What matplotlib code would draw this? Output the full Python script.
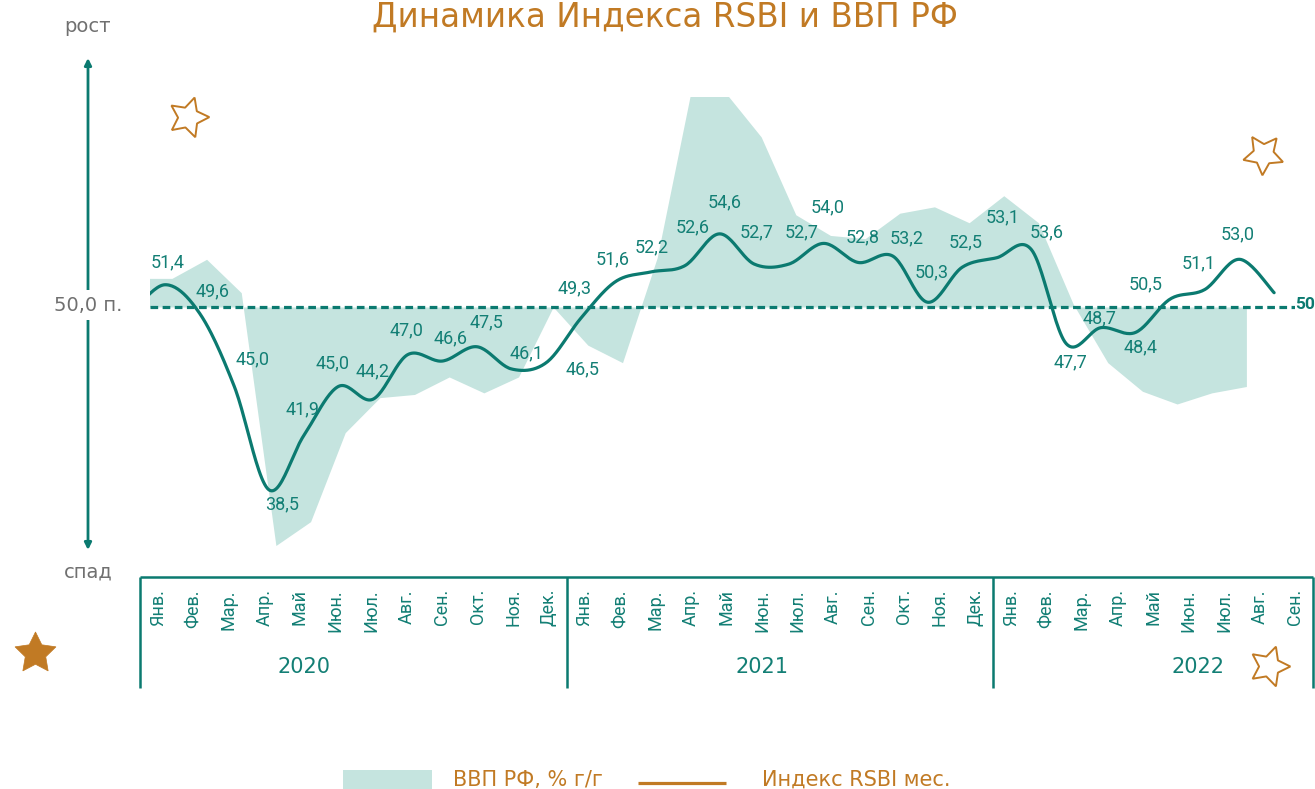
import numpy as np
import matplotlib
matplotlib.use("Agg")
import matplotlib.pyplot as plt
from matplotlib.patches import Rectangle

plt.rcParams['font.family'] = ['Roboto', 'DejaVu Sans']
WIDE = ['DejaVu Sans']

# ---------------- data ----------------
months = ["Янв.", "Фев.", "Мар.", "Апр.", "Май", "Июн.", "Июл.", "Авг.", "Сен.", "Окт.", "Ноя.", "Дек.",
          "Янв.", "Фев.", "Мар.", "Апр.", "Май", "Июн.", "Июл.", "Авг.", "Сен.", "Окт.", "Ноя.", "Дек.",
          "Янв.", "Фев.", "Мар.", "Апр.", "Май", "Июн.", "Июл.", "Авг.", "Сен."]
years = ["2020", "2021", "2022"]

rsbi = [51.4, 49.6, 45.0, 38.5, 41.9, 45.0, 44.2, 47.0, 46.6, 47.5, 46.1, 46.5,
        49.3, 51.6, 52.2, 52.6, 54.6, 52.7, 52.7, 54.0, 52.8, 53.2, 50.3, 52.5,
        53.1, 53.6, 47.7, 48.7, 48.4, 50.5, 51.1, 53.0, 50.9]
rsbi_dec2019 = 49.5          # visible stub at the left edge of the line
labeled = 32                 # first 32 points carry value labels

# GDP (% y/y) shown on the RSBI scale as 50 + deviation, Dec 2019 .. Aug 2022
gdp_level = [51.8, 51.8, 53.0, 50.9, 35.0, 36.5, 42.1, 44.3, 44.5, 45.6, 44.6, 45.6,
             50.0, 47.6, 46.5, 53.1, 63.8, 63.4, 60.7, 55.8, 54.5, 54.3, 55.9, 56.3,
             55.3, 57.0, 55.3, 50.2, 46.5, 44.7, 43.9, 44.6, 45.0]
baseline = 50.0

# label offsets (pixels, dx right, dy down) – styling only
lab_off = [(3, -22), (13, -22), (18, -27), (13, 15), (-1, -26), (-6, -23), (0, -28), (-1, -24),
           (8, -23), (10, -24), (15, -16), (36, 7), (-6, -30), (-3, -22), (1, -25), (8, -38),
           (5, -32), (2, -32), (13, -32), (4, -36), (4, -25), (14, -18), (4, -30), (3, -25),
           (6, -40), (15, -17), (4, 19), (-1, -9), (5, 15), (-24, -15), (-6, -26), (-2, -25)]

# ---------------- style ----------------
TEAL = "#0b7a70"
TEAL_TXT = "#137f75"
AREA = "#c5e4df"
ORANGE = "#c17a24"
GRAY = "#707070"
W, H = 1315, 789

fig = plt.figure(figsize=(W / 100, H / 100), dpi=100)

# overlay in pixel coordinates for decorations
ov = fig.add_axes([0, 0, 1, 1])
ov.set_xlim(0, W)
ov.set_ylim(H, 0)
ov.axis('off')

# ---------------- main chart ----------------
px_l, px_r, px_t, px_b = 150, 1295, 97, 560
ax = fig.add_axes([px_l / W, 1 - px_b / H, (px_r - px_l) / W, (px_b - px_t) / H])
step = 34.66
x0pix = 165
ax.set_xlim((px_l - x0pix) / step, (px_r - x0pix) / step)
ppu = 15.9
ax.set_ylim(baseline - (px_b - 307) / ppu, baseline + (307 - px_t) / ppu)
ax.axis('off')

# GDP area
gx = np.arange(-1, len(gdp_level) - 1) + 0.2
ax.fill_between(gx, baseline, gdp_level, color=AREA, lw=0, zorder=1)

# baseline dashed
ax.axhline(baseline, color=TEAL, lw=2.3, ls=(0, (2.4, 1.4)), zorder=2)


def catmull_rom(xs, ys, n=24):
    xs = np.asarray(xs, float)
    ys = np.asarray(ys, float)
    P = np.column_stack([xs, ys])
    P = np.vstack([P[0], P, P[-1]])
    out = []
    t = np.linspace(0, 1, n, endpoint=False)[:, None]
    for i in range(1, len(P) - 2):
        p0, p1, p2, p3 = P[i - 1], P[i], P[i + 1], P[i + 2]
        m1 = (p2 - p0) / 2
        m2 = (p3 - p1) / 2
        h00 = 2 * t**3 - 3 * t**2 + 1
        h10 = t**3 - 2 * t**2 + t
        h01 = -2 * t**3 + 3 * t**2
        h11 = t**3 - t**2
        out.append(h00 * p1 + h10 * m1 + h01 * p2 + h11 * m2)
    out.append(P[-2][None, :])
    return np.vstack(out)


lx = np.arange(-1, len(rsbi))
ly = [rsbi_dec2019] + rsbi
curve = catmull_rom(lx, ly)
ax.plot(curve[:, 0], curve[:, 1], color=TEAL, lw=2.3, solid_capstyle='round', zorder=3)

for i in range(labeled):
    dx, dy = lab_off[i]
    ax.annotate(f"{rsbi[i]:.1f}".replace('.', ','), xy=(i, rsbi[i]), xytext=(dx, -dy),
                textcoords='offset pixels', ha='center', va='center',
                fontsize=13, color=TEAL_TXT, zorder=4, annotation_clip=False)

# "50" at right end of the baseline
ov.text(1295, 304, "50", color=TEAL, fontsize=12.5, fontweight='bold', ha='left', va='center')

# ---------------- title ----------------
ov.text(665, 27, "Динамика Индекса RSBI и ВВП РФ", color=ORANGE, fontsize=23.5,
        ha='center', va='baseline', family=WIDE)

# ---------------- left arrow ----------------
ov.annotate('', xy=(88, 58), xytext=(88, 550),
            arrowprops=dict(arrowstyle='<|-|>', color=TEAL, lw=2, mutation_scale=10,
                            shrinkA=0, shrinkB=0))
ov.text(88, 26, "рост", color=GRAY, fontsize=14, ha='center', va='center', family=WIDE)
ov.text(88, 572, "спад", color=GRAY, fontsize=14, ha='center', va='center', family=WIDE)
ov.text(88, 305, "50,0 п.", color=GRAY, fontsize=14, ha='center', va='center', family=WIDE,
        bbox=dict(boxstyle='square,pad=0.3', fc='white', ec='none'))

# ---------------- stars ----------------
ov.plot(188, 117, marker=(5, 1, -17), ms=30, mfc='none', mec=ORANGE, mew=1.4)
ov.plot(1263, 154, marker=(5, 1, 33), ms=30, mfc='none', mec=ORANGE, mew=1.4)
ov.plot(1269, 666, marker=(5, 1, -90), ms=30, mfc='none', mec=ORANGE, mew=1.4)
ov.plot(35, 653, marker=(5, 1, 0), ms=31, mfc=ORANGE, mec=ORANGE, mew=0.5)

# ---------------- month table ----------------
tl, tr, tt, tb = 140, 1313, 577, 688
tax = fig.add_axes([tl / W, 1 - tb / H, (tr - tl) / W, (tb - tt) / H])
tax.set_xlim(-0.5, len(months) - 0.5)
tax.set_ylim(0, 1)
tax.axis('off')
tax.plot([-0.5, len(months) - 0.5], [1, 1], color=TEAL, lw=1.8, clip_on=False,
         solid_capstyle='butt')
for xb in [-0.5, 11.5, 23.5, len(months) - 0.5]:
    tax.plot([xb, xb], [0, 1], color=TEAL, lw=1.8, clip_on=False, solid_capstyle='butt')
ytxt = (tb - 589) / (tb - tt)
for i, m in enumerate(months):
    tax.text(i, ytxt, m, rotation=90, ha='center', va='top', color=TEAL_TXT, fontsize=13)
year_pos = [4.11, 17.0, 29.26]
yy = (tb - 667) / (tb - tt)
for yp, yl in zip(year_pos, years):
    tax.text(yp, yy, yl, ha='center', va='center', color=TEAL_TXT, fontsize=15, family=WIDE)

# ---------------- legend ----------------
ov.add_patch(Rectangle((343, 770), 89, 22, color=AREA, lw=0))
ov.text(453, 780, "ВВП РФ, % г/г", color=ORANGE, fontsize=15, ha='left', va='center',
        family=WIDE)
ov.plot([638, 726], [783, 783], color=ORANGE, lw=2.3, solid_capstyle='butt')
ov.text(762, 780, "Индекс RSBI мес.", color=ORANGE, fontsize=15, ha='left', va='center',
        family=WIDE)

fig.savefig("out.png", dpi=100)
